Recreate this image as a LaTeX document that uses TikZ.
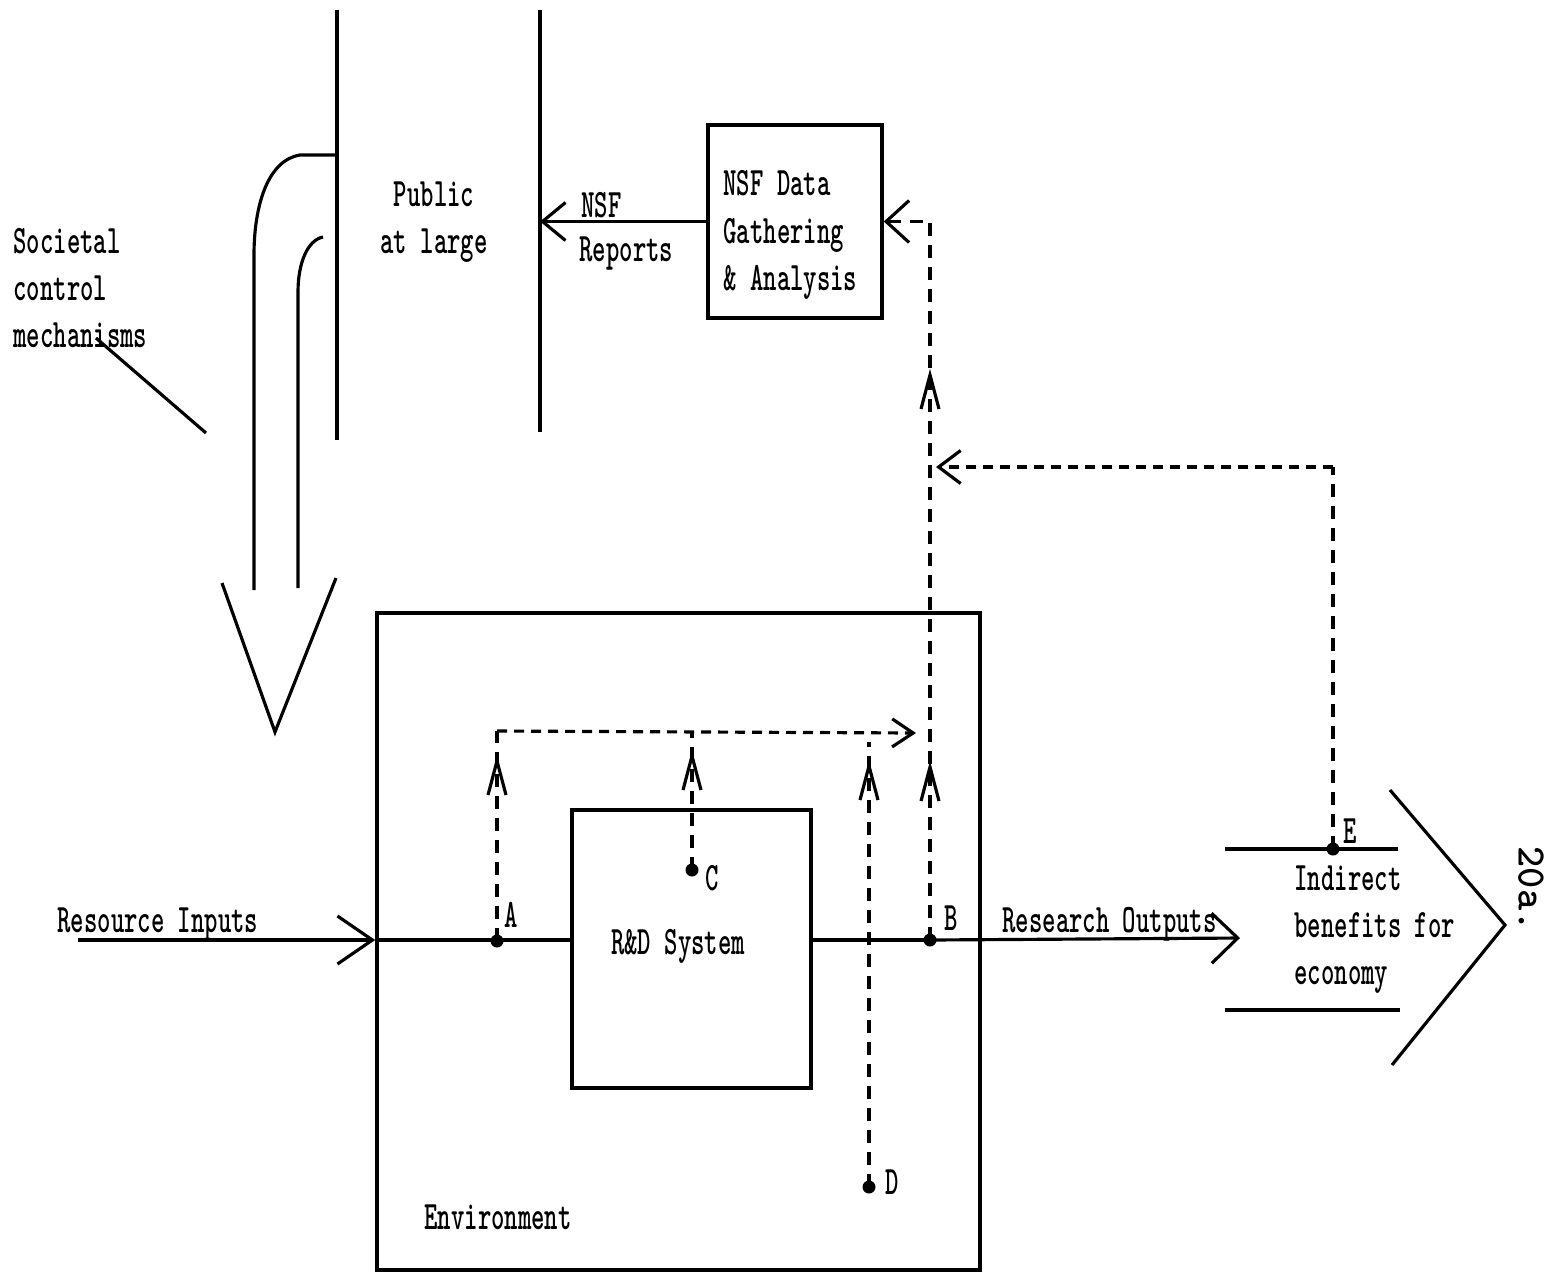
\documentclass[tikz,border=0pt]{standalone}
\usepackage{graphicx}
\usetikzlibrary{arrows.meta}
\newcommand\cond[1]{\scalebox{0.63}[1]{#1}}
\begin{document}
\begin{tikzpicture}[x=0.1mm,y=-0.1mm,line width=0.9pt,
  txt/.style={font=\ttfamily\bfseries\fontsize{11.5}{13.4}\selectfont,inner sep=0pt,align=left},
  lbl/.style={font=\ttfamily\bfseries\fontsize{11.5}{13.4}\selectfont,inner sep=0pt},
  box/.style={draw,line width=1pt,inner sep=0pt},
  dline/.style={dash pattern=on 1.3mm off 0.9mm},
  hdline/.style={dash pattern=on 1mm off 0.7mm},
  dotn/.style={circle,fill,inner sep=0pt,minimum size=1.3mm},
  vup/.pic={\draw[solid,line width=0.9pt] (-9,34) -- (0,0) -- (9,34);}]
\useasboundingbox (0,0) rectangle (1546,1277);

% top: public at large
\coordinate (pubLtop) at (337,10);
\coordinate (pubLbot) at (337,440);
\coordinate (pubRtop) at (540,10);
\coordinate (pubRbot) at (540,432);
\draw (pubLtop) -- (pubLbot);
\draw (pubRtop) -- (pubRbot);
\node[txt,align=center] (pub) at (434,222) {\cond{Public}\\\cond{at large}};

% societal control band arrow
\draw (336,155) -- (300,155) .. controls (268,160) and (254,205) .. (254,255) -- (254,590);
\draw (323,237) .. controls (308,240) and (298,262) .. (298,292) -- (298,588);
\draw (222,583) -- (275,732) -- (336,578);
\node[txt,anchor=west] (soc) at (12,288) {\cond{Societal}\\\cond{control}\\\cond{mechanisms}};
\coordinate (socp1) at (96,338);
\coordinate (socp2) at (206,433);
\draw (socp1) -- (socp2);

% NSF box
\node[box,minimum width=17.4mm,minimum height=19.3mm] (nsf) at (795,221.5) {};
\node[txt,anchor=west] (nsft) at (722,235) {\cond{NSF Data}\\\cond{Gathering}\\\cond{\& Analysis}};
\draw[-{Straight Barb[length=2.3mm,width=3.8mm]}] (nsf.west) -- (nsf.west -| pubRtop);
\node[lbl,anchor=west] (nsfl) at (580,205) {\cond{NSF}};
\node[lbl,anchor=west] (rep) at (578,254) {\cond{Reports}};

% environment and R&D system
\node[box,minimum width=60.3mm,minimum height=65.7mm] (env) at (678.5,941.5) {};
\node[box,minimum width=23.9mm,minimum height=27.8mm] (rd) at (691.5,949) {};
\node[lbl] (rdt) at (678,946) {\cond{R\&D System}};
\node[lbl,anchor=west] (envt) at (423,1217) {\cond{Environment}};

% points
\node[dotn] (A) at (497,941) {};
\node[dotn] (B) at (930,940) {};
\node[dotn] (C) at (692,870) {};
\node[dotn] (D) at (869,1187) {};
\node[dotn] (E) at (1333,849) {};
\node[lbl] at (511,915) {\cond{A}};
\node[lbl] at (951,918) {\cond{B}};
\node[lbl] at (712,878) {\cond{C}};
\node[lbl] at (892,1182) {\cond{D}};
\node[lbl] at (1350,831) {\cond{E}};

% main flow
\coordinate (rin) at (78,940);
\coordinate (rout) at (1240,938);
\node[lbl,anchor=west] (rint) at (56,924) {\cond{Resource Inputs}};
\node[lbl,anchor=west] (routt) at (1001,924) {\cond{Research Outputs}};
\draw[-{Straight Barb[length=3.5mm,width=4.8mm]}] (rin) -- (rin -| env.west);
\draw (rin -| env.west) -- (rin -| rd.west);
\draw (rd.east |- B) -- (B.center);
\draw[-{Straight Barb[length=2.6mm,width=5mm]}] (B.center) -- (rout);

% dashed monitoring lines
\coordinate (hl) at (497,731);
\coordinate (htip) at (916,733);
\draw[dline] (A.center) -- (hl);
\draw[hdline,-{Straight Barb[length=2.1mm,width=2.8mm]}] (hl) -- (htip);
\draw[dline] (C.center) -- (C.center |- hl);
\draw[dline] (D.center) -- (869,742);
\draw[dline,-{Straight Barb[length=2.3mm,width=4.2mm]}] (B.center) -- (nsf.east -| B.center) -- (nsf.east);
\coordinate (etip) at (936,467);
\coordinate (ecorner) at (1333,467);
\draw[dline] (E.center) -- (ecorner);
\draw[hdline,-{Straight Barb[length=2.2mm,width=3.3mm]}] (ecorner) -- (etip);
\pic at (497,761) {vup};
\pic at (692,756) {vup};
\pic at (869,766) {vup};
\pic at (930,767) {vup};
\pic at (930,375) {vup};

% indirect benefits
\coordinate (ib1) at (1225,849);
\coordinate (ib2) at (1398,849);
\coordinate (ib3) at (1225,1010);
\coordinate (ib4) at (1400,1010);
\draw (ib1) -- (ib2);
\draw (ib3) -- (ib4);
\draw (1390,790) -- (1505,925) -- (1392,1065);
\node[txt,anchor=west] (ibt) at (1293,930) {\cond{Indirect}\\\cond{benefits for}\\\cond{economy}};

\node[font=\ttfamily\bfseries\fontsize{11.5}{13}\selectfont,rotate=-90,inner sep=0pt] (pg) at (1531,889) {20a.};
\end{tikzpicture}
\end{document}
